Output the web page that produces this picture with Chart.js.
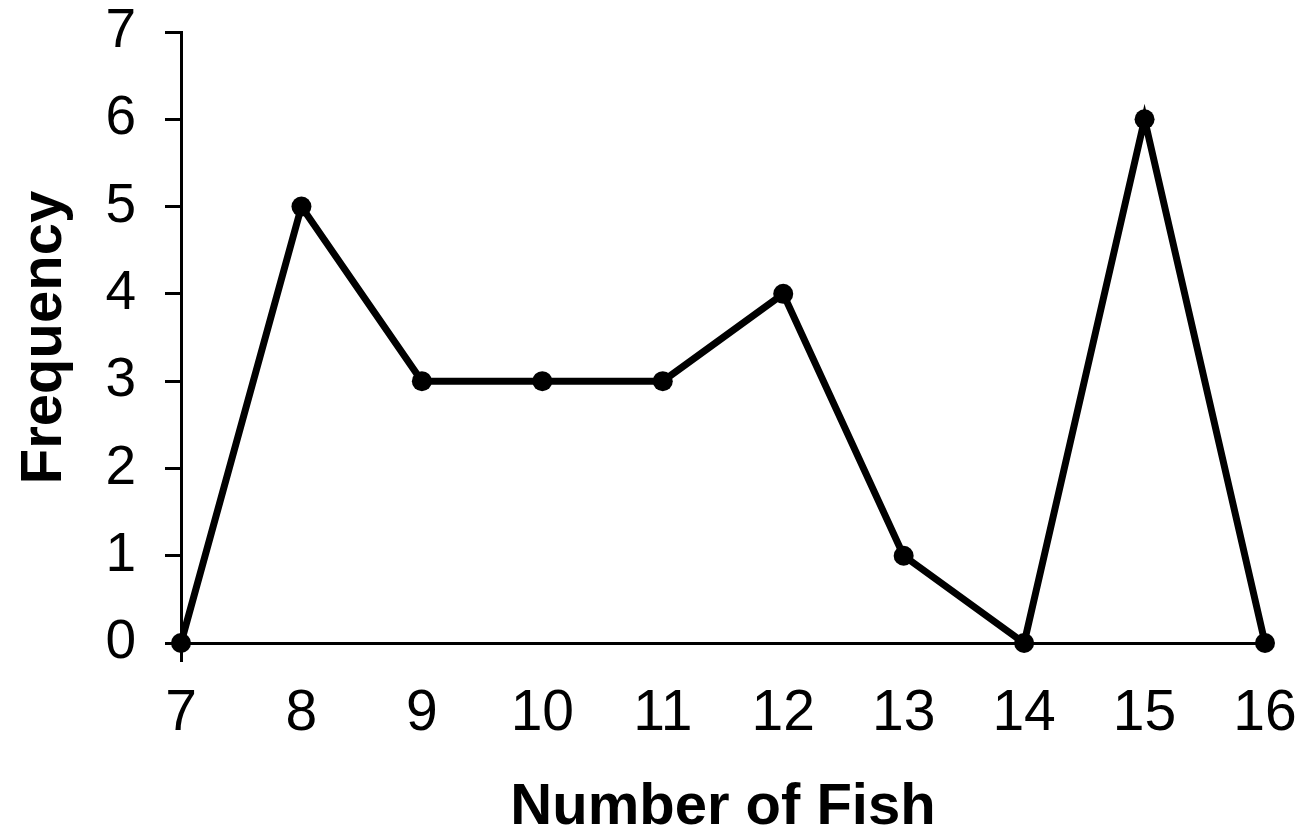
<!DOCTYPE html>
<html>
<head>
<meta charset="utf-8">
<script src="https://cdn.jsdelivr.net/npm/chart.js@4"></script>
<style>
  body { margin: 0; background: #fff; }
</style>
</head>
<body>
<canvas id="fishChart" width="1308" height="837"></canvas>
<script>
// Values
const fishCounts = [7, 8, 9, 10, 11, 12, 13, 14, 15, 16];
const frequencies = [0, 5, 3, 3, 3, 4, 1, 0, 6, 0];
const yTicks = [0, 1, 2, 3, 4, 5, 6, 7];

const points = fishCounts.map((x, i) => ({ x: x, y: frequencies[i] }));

const ctx = document.getElementById('fishChart').getContext('2d');

new Chart(ctx, {
    type: 'line',
    data: {
        datasets: [{
            data: points,
            borderColor: '#000',
            backgroundColor: '#000',
            borderWidth: 7,
            pointRadius: 10,
            pointBackgroundColor: '#000',
            pointBorderWidth: 0,
            tension: 0,
            clip: false
        }]
    },
    options: {
        responsive: false,
        animation: false,
        layout: { padding: { top: 32, right: 43, left: 0, bottom: 0 } },
        plugins: { legend: { display: false }, tooltip: { enabled: false } },
        scales: {
            x: {
                type: 'linear',
                min: fishCounts[0],
                max: fishCounts[fishCounts.length - 1],
                afterBuildTicks: (scale) => { scale.ticks = fishCounts.map(v => ({ value: v })); },
                afterFit: (scale) => {
                    scale.height = 194;
                    // keep the plot edges where the layout padding puts them
                    scale.paddingLeft = 0;
                    scale.paddingRight = 0;
                },
                border: { color: '#000', width: 3 },
                grid: {
                    drawOnChartArea: false,
                    tickLength: 19,
                    tickWidth: 3,
                    // only the first tick mark shows below the axis
                    tickColor: (c) => c.index === 0 ? '#000' : 'rgba(0,0,0,0)'
                },
                ticks: {
                    color: '#000',
                    padding: 21,
                    maxRotation: 0,
                    font: { family: 'Liberation Sans, Arial', size: 57, lineHeight: 1.1 }
                },
                title: {
                    display: true,
                    text: 'Number of Fish',
                    color: '#000',
                    padding: { top: 0, bottom: 0 },
                    font: { family: 'Liberation Sans, Arial', size: 58, weight: 'bold', lineHeight: 1.0 }
                }
            },
            y: {
                min: 0,
                max: 7,
                afterBuildTicks: (scale) => { scale.ticks = yTicks.map(v => ({ value: v })); },
                afterFit: (scale) => {
                    scale.width = 181;
                    scale.paddingTop = 0;
                    scale.paddingBottom = 0;
                },
                border: { color: '#000', width: 3 },
                grid: {
                    drawOnChartArea: false,
                    tickLength: 16,
                    tickWidth: 3,
                    tickColor: '#000'
                },
                ticks: {
                    color: '#000',
                    padding: 29,
                    font: { family: 'Liberation Sans, Arial', size: 55, lineHeight: 1 }
                },
                title: {
                    display: true,
                    text: 'Frequency',
                    color: '#000',
                    padding: { top: 13, bottom: 0 },
                    font: { family: 'Liberation Sans, Arial', size: 58, weight: 'bold', lineHeight: 1.1 }
                }
            }
        }
    }
});
</script>
</body>
</html>
